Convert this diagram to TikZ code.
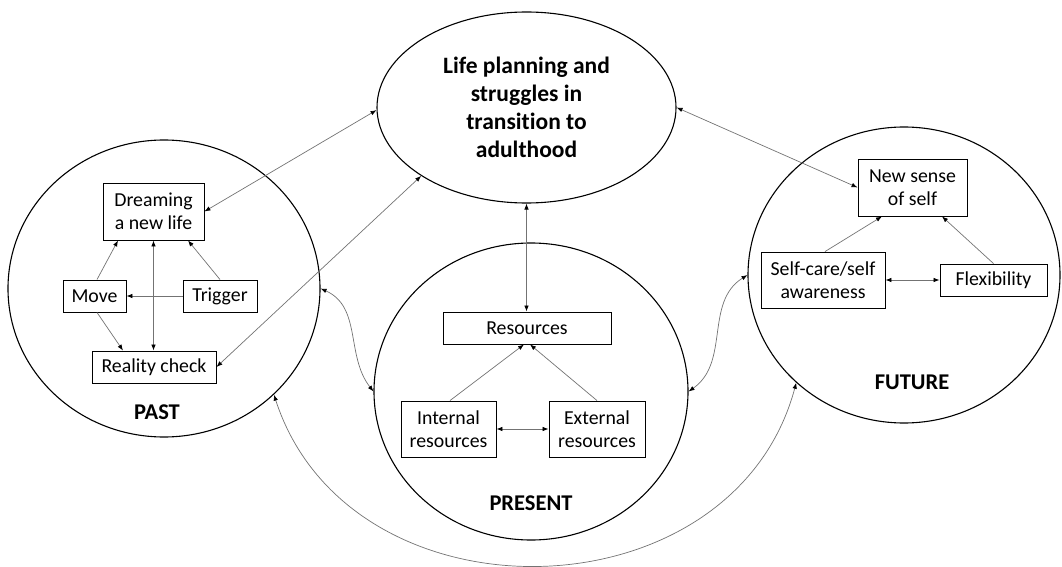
\documentclass[tikz,border=0pt]{standalone}
\usepackage{fontspec}
\setmainfont{Carlito}[Ligatures=NoCommon]
\usetikzlibrary{shapes.geometric,arrows.meta}
\begin{document}
\begin{tikzpicture}[x=1pt,y=1pt,
  >={Latex[length=6pt,width=4.5pt,color=black]},
  zone/.style={ellipse,draw=black,line width=1.1pt,inner sep=0pt},
  box/.style={rectangle,draw=black,line width=0.9pt,inner sep=1pt,align=center,font=\fontsize{19.8}{23.5}\selectfont},
  lbl/.style={inner sep=0pt,font=\fontsize{22.5}{27}\selectfont\bfseries},
  link/.style={draw=black!55,line width=0.7pt}]
\useasboundingbox (0,0) rectangle (1062,566);
% zones
\node[zone,minimum width=312pt,minimum height=297pt] (past) at (164,277.5) {};
\node[zone,minimum width=299pt,minimum height=191pt,align=center,font=\fontsize{23.5}{28}\selectfont\bfseries] (main) at (526.5,458.5) {Life planning and\\struggles in\\transition to\\adulthood};
\node[zone,minimum width=314pt,minimum height=297pt] (present) at (531,174.5) {};
\node[zone,minimum width=312pt,minimum height=296pt] (future) at (904,291) {};
% past
\node[box,minimum width=101pt,minimum height=57pt] (dream) at (153.5,354.5) {Dreaming\\a new life};
\node[box,minimum width=63pt,minimum height=32pt] (move) at (94.5,270) {Move};
\node[box,minimum width=74pt,minimum height=32pt] (trigger) at (220,270) {Trigger};
\node[box,minimum width=124pt,minimum height=32pt] (reality) at (154,199) {Reality check};
\node[lbl] (pastlbl) at (157,154) {PAST};
% present
\node[box,minimum width=168pt,minimum height=32pt] (resources) at (527,238) {Resources};
\node[box,minimum width=95pt,minimum height=56pt] (internal) at (448.5,137) {Internal\\resources};
\node[box,minimum width=96pt,minimum height=56pt] (external) at (597,137) {External\\resources};
\node[lbl] (presentlbl) at (531,63) {PRESENT};
% future
\node[box,minimum width=109pt,minimum height=57pt] (newself) at (912.5,378.5) {New sense\\of self};
\node[box,minimum width=124pt,minimum height=56pt] (selfcare) at (823,286) {Self-care/self\\awareness};
\node[box,minimum width=107pt,minimum height=32pt] (flex) at (993.5,286) {Flexibility};
\node[lbl] (futurelbl) at (912,184) {FUTURE};
% past links
\draw[link,->] ([xshift=2.5pt]move.north) -- ([xshift=-35.5pt]dream.south);
\draw[link,->] (trigger.north) -- ([xshift=34.5pt]dream.south);
\draw[link,->] (trigger.west) -- (move.east);
\draw[link,->] ([xshift=2.5pt]move.south) -- ([xshift=-31pt]reality.north);
\draw[link,<->] (dream.south) -- (dream.south |- reality.north);
% main links
\draw[link,<->] (dream.east) -- (main.181);
\draw[link,<->] (reality.east) -- (main.213);
\draw[link,<->] (main.0) -- (newself.west);
\draw[link,<->] (main.south) -- (main.south |- resources.north);
% present links
\draw[link,->] ([xshift=1.5pt]internal.north) -- ([xshift=-3pt]resources.south);
\draw[link,->] (external.north) -- ([xshift=3pt]resources.south);
\draw[link,<->] (internal.east) -- (external.west);
% future links
\draw[link,->] ([xshift=2pt]selfcare.north) -- ([xshift=-30.5pt]newself.south);
\draw[link,->] (flex.north) -- ([xshift=29.5pt]newself.south);
\draw[link,<->] (selfcare.east) -- (flex.west);
% zone links
\draw[link,<->] (past.east) to[out=-24,in=128] (present.west);
\draw[link,<->] (present.east) to[out=35,in=-148] (future.west);
\draw[link,<->] (past.-44) to[out=-72,in=-105,looseness=1.2] (future.-135);
\end{tikzpicture}
\end{document}
